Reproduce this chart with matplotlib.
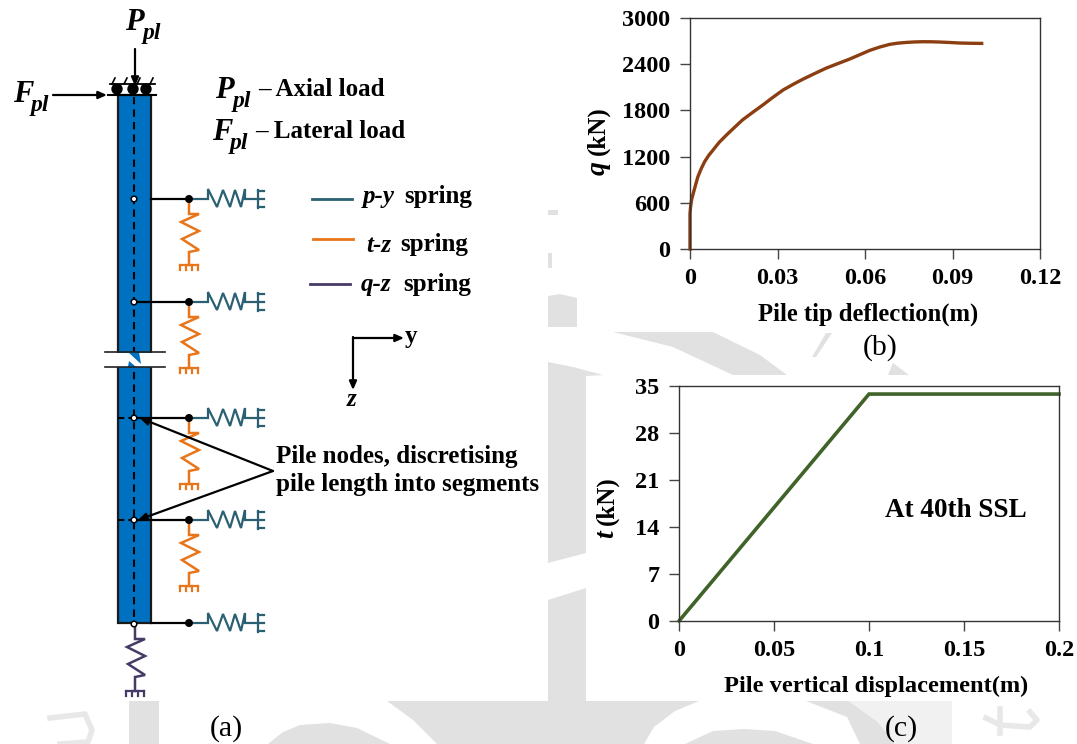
import matplotlib
matplotlib.use('Agg')
import matplotlib.pyplot as plt
from matplotlib.patches import Polygon, Rectangle, Circle

plt.rcParams['font.family'] = ['Liberation Serif', 'DejaVu Serif']

# panel (b): pile tip deflection vs q
tip_x = [0, 0, 0.0002, 0.0006, 0.00126, 0.002, 0.0027, 0.0038, 0.005, 0.0064, 0.0079, 0.01, 0.0125,
         0.015, 0.018, 0.0215, 0.025, 0.0285, 0.032, 0.0353, 0.0387, 0.0427, 0.0467, 0.0507, 0.0547,
         0.058, 0.0616, 0.065, 0.0684, 0.0712, 0.0742, 0.077, 0.0799, 0.0828, 0.0856, 0.089, 0.0925,
         0.096, 0.1]
tip_q = [0, 460, 547, 650, 742, 845, 938, 1040, 1133, 1215, 1285, 1385, 1480,
         1570, 1676, 1775, 1871, 1972, 2067, 2137, 2205, 2278, 2349, 2408, 2466,
         2520, 2579, 2622, 2657, 2673, 2683, 2689, 2692, 2691, 2688, 2682, 2675,
         2672, 2670]
b_xticks = [0, 0.03, 0.06, 0.09, 0.12]
b_xlabels = ['0', '0.03', '0.06', '0.09', '0.12']
b_yticks = [0, 600, 1200, 1800, 2400, 3000]

# panel (c): vertical displacement vs t
disp_x = [0, 0.1, 0.2]
disp_t = [0, 33.8, 33.8]
c_xticks = [0, 0.05, 0.1, 0.15, 0.2]
c_xlabels = ['0', '0.05', '0.1', '0.15', '0.2']
c_yticks = [0, 7, 14, 21, 28, 35]

# schematic node levels (pixels down the pile)
node_y = [199, 302, 418, 520, 623]
tz_nodes = [199, 302, 418, 520]

W, H = 1077, 744
BLUE = '#0070C0'
TEAL = '#2A6072'
ORANGE = '#E8751A'
PURPLE = '#463A66'
GREY = '#E1E1E1'

fig = plt.figure(figsize=(W / 100, H / 100), dpi=100)
bg = fig.add_axes([0, 0, 1, 1], zorder=0)
bg.set_xlim(0, W)
bg.set_ylim(H, 0)
bg.axis('off')


def px_axes(x0, x1, y0, y1):
    # axes from pixel box, y measured from the top
    return fig.add_axes([x0 / W, 1 - y1 / H, (x1 - x0) / W, (y1 - y0) / H], zorder=2)


# watermark pieces showing between the white boxes
marks = [
    [(548, 296), (560, 294), (577, 298), (577, 327), (548, 327)],
    [(548, 210), (558, 210), (558, 215), (548, 215)],
    [(548, 253), (552, 253), (552, 268), (548, 268)],
    [(613, 332), (713, 332), (760, 355), (787, 375), (733, 375), (673, 347)],
    [(548, 362), (573, 367), (603, 375), (586, 376), (586, 553), (548, 563)],
    [(548, 600), (586, 588), (586, 700), (548, 700)],
    [(812, 357), (826, 333), (832, 333), (816, 357)],
    [(888, 375), (893, 363), (909, 375)],
    [(129, 701), (159, 701), (159, 744), (129, 744)],
    [(268, 744), (283, 732), (300, 725), (330, 723), (357, 728), (390, 744)],
    [(387, 701), (699, 701), (675, 711), (654, 727), (644, 744), (437, 744), (413, 720)],
    [(548, 700), (586, 700), (586, 702), (548, 702)],
    [(685, 744), (713, 731), (744, 729), (775, 731), (813, 744)],
    [(806, 701), (849, 701), (878, 722), (895, 744), (860, 744), (847, 717)],
]
for pts in marks:
    bg.add_patch(Polygon(pts, fc=GREY, ec='none'))
bg.add_patch(Polygon([(849, 701), (952, 701), (952, 744), (895, 744), (878, 722)], fc='#F1F1F1', ec='none'))
bg.plot([986, 1000, 1030, 1037, 1030], [718, 725, 727, 720, 712], color='#E8E8E8', lw=4)
bg.plot([1000, 1000], [709, 733], color='#E8E8E8', lw=4)
bg.plot([50, 85, 92, 88, 60], [718, 714, 730, 742, 744], color='#E8E8E8', lw=4)

ov = fig.add_axes([0, 0, 1, 1], zorder=3)
ov.set_xlim(0, W)
ov.set_ylim(H, 0)
ov.axis('off')
ov.patch.set_alpha(0)


def serif(x, y, s, size=18, weight='bold', style='normal', **kw):
    kw.setdefault('ha', 'left')
    kw.setdefault('va', 'center')
    ov.text(x, y, s, fontsize=size, fontweight=weight, fontstyle=style, color='black', **kw)


def ppl(x, y, letter):
    serif(x, y + 3, letter, size=22, style='italic')
    serif(x + 18, y + 14, 'pl', size=17, style='italic')


def arrow(x0, y0, x1, y1, lw=1.6):
    ov.annotate('', xy=(x1, y1), xytext=(x0, y0),
                arrowprops=dict(arrowstyle='-|>,head_length=0.5,head_width=0.22', lw=lw, color='black',
                                shrinkA=0, shrinkB=0))


def py_spring(y):
    xs = [189, 208, 208, 217, 223, 230, 235, 241, 245, 245, 258]
    ys = [0, 0, -10, 8, -9, 8, -9, 8, -10, 0, 0]
    ov.plot(xs, [y + v for v in ys], color=TEAL, lw=1.6, solid_joinstyle='miter')
    ov.plot([258, 258], [y - 9, y + 9], color=TEAL, lw=1.6)
    for dy in [-8, 0, 8]:
        ov.plot([258, 264], [y + dy, y + dy], color=TEAL, lw=1.6)


def vert_spring(x, y, color, lead=15, ln=66):
    dx = [0, 0, 10, -8, 10, -7, 10, 0, 0]
    dy = [0, lead, lead, lead + 8, lead + 17, lead + 25, lead + 36, lead + 38, ln]
    ov.plot([x + v for v in dx], [y + v for v in dy], color=color, lw=1.8, solid_joinstyle='miter')
    ov.plot([x - 9, x + 9], [y + ln, y + ln], color=color, lw=1.6)
    for d in [-9, -3, 3, 9]:
        ov.plot([x + d, x + d], [y + ln, y + ln + 5], color=color, lw=1.6)


# pile body
ov.add_patch(Rectangle((118, 95), 33, 528, fc=BLUE, ec='#1a1a1a', lw=1.6, zorder=1))
ov.plot([134, 134], [97, 622], color='black', lw=1.5, ls=(0, (3.5, 2.5)), zorder=2)

# break in the pile
ov.add_patch(Rectangle((100, 353), 70, 14, fc='white', ec='none', zorder=3))
ov.add_patch(Polygon([(128, 352), (141, 364), (139, 352)], fc=BLUE, ec='none', zorder=3))
ov.add_patch(Polygon([(128, 367), (129, 361), (142, 372), (141, 367)], fc=BLUE, ec='none', zorder=3))
ov.plot([105, 165], [352, 352], color='#222222', lw=1.2, zorder=4)
ov.plot([105, 165], [367, 367], color='#222222', lw=1.2, zorder=4)

# top support
ov.plot([108, 156], [95, 95], color='black', lw=1.5, zorder=4)
ov.plot([110, 155], [84, 84], color='black', lw=1.3, zorder=4)
for hx in [112, 124, 137, 150]:
    ov.plot([hx, hx + 3], [84, 78], color='black', lw=1.2, zorder=4)
for cx in [117, 133, 146]:
    ov.add_patch(Circle((cx, 89), 5, fc='black', ec='black', zorder=4))

# springs and connections
for i, y in enumerate(node_y):
    py_spring(y)
    x_from = 134 if i in (1, 2, 3) else 151
    ov.plot([x_from, 189], [y, y], color='black', lw=1.6, zorder=5)
for y in tz_nodes:
    vert_spring(189, y, ORANGE)
vert_spring(135, 624, PURPLE, ln=67)
for y in [418, 520]:
    ov.plot([118, 134], [y, y], color='black', lw=1.5, ls=(0, (3, 2)), zorder=5)
for y in node_y:
    ov.add_patch(Circle((189, y), 3.3, fc='black', ec='black', zorder=6))
    ov.add_patch(Circle((134, y + (1 if y == 623 else 0)), 2.8, fc='white', ec='black', lw=1.1, zorder=6))

# loads
arrow(135, 49, 135, 86)
arrow(53, 95, 107, 95)
ppl(125, 19, 'P')
ppl(13, 91, 'F')
ppl(215, 87, 'P')
serif(258, 90, '\u2013 Axial load')
ppl(212, 130, 'F')
serif(255, 132, '\u2013 Lateral load')

# legend
ov.plot([312, 352], [199, 199], color=TEAL, lw=2)
serif(363, 197, 'p-y', style='italic')
serif(404, 197, 'spring')
ov.plot([313, 353], [239, 239], color=ORANGE, lw=2)
serif(366, 245, 't-z', style='italic')
serif(400, 245, 'spring')
ov.plot([310, 350], [284, 284], color=PURPLE, lw=2)
serif(361, 284, 'q-z', style='italic')
serif(403, 284, 'spring')

# axes directions
arrow(353, 338, 404, 338)
arrow(353, 337, 353, 390)
serif(405, 336, 'y')
serif(352, 399, 'z', style='italic', ha='center')

# node annotation
arrow(273, 471, 140, 418)
arrow(273, 471, 138, 520)
serif(276, 457, 'Pile nodes, discretising')
serif(276, 485, 'pile length into segments')

serif(226, 729, '(a)', size=21.5, weight='normal', ha='center')
serif(880, 348, '(b)', size=21.5, weight='normal', ha='center')
serif(901, 729, '(c)', size=21.5, weight='normal', ha='center')


def style_axes(ax, xticks, xlabels, yticks):
    ax.set_xticks(xticks, xlabels)
    ax.set_yticks(yticks)
    ax.tick_params(length=7, width=1, color='#444444', pad=7, labelsize=17.5)
    for lab in ax.get_xticklabels() + ax.get_yticklabels():
        lab.set_fontweight('bold')
    for sp in ax.spines.values():
        sp.set_color('#333333')
        sp.set_linewidth(1)


# panel (b)
ax_b = px_axes(690, 1040, 18, 249)
ax_b.plot(tip_x, tip_q, color='#8B3E12', lw=2.4, clip_on=False)
ax_b.set_xlim(0, 0.12)
ax_b.set_ylim(0, 3000)
style_axes(ax_b, b_xticks, b_xlabels, b_yticks)
serif(868, 314, 'Pile tip deflection(m)', size=17.7, ha='center')
serif(598, 155, '(kN)', size=18, rotation=90, ha='center', va='bottom')
serif(598, 168, 'q', size=20, style='italic', rotation=90, ha='center')

# panel (c)
ax_c = px_axes(679, 1059, 386, 621)
ax_c.plot(disp_x, disp_t, color='#3F6328', lw=2.6, clip_on=False, solid_joinstyle='miter')
ax_c.set_xlim(0, 0.2)
ax_c.set_ylim(0, 35)
style_axes(ax_c, c_xticks, c_xlabels, c_yticks)
serif(876, 686, 'Pile vertical displacement(m)', size=17.6, ha='center')
serif(607, 525, '(kN)', size=18, rotation=90, ha='center', va='bottom')
serif(607, 534, 't', size=20, style='italic', rotation=90, ha='center')
ax_c.text(0.1458, 16.5, 'At 40th SSL', fontsize=19.5, fontweight='bold', ha='center', va='center')

fig.savefig('out.png', dpi=100)
